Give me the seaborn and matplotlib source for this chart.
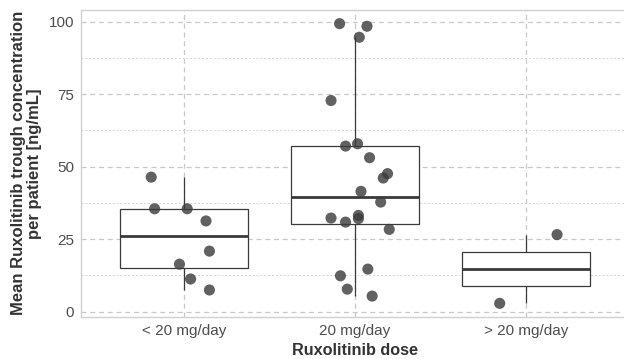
import numpy as np
import pandas as pd
import matplotlib
matplotlib.use("Agg")
import matplotlib.pyplot as plt
import seaborn as sns

# --- data ---
doses = ["< 20 mg/day", "20 mg/day", "> 20 mg/day"]

low_vals = [46.4, 35.5, 35.5, 31.3, 20.9, 16.4, 11.3, 7.5]
low_jit = [-0.19, -0.17, 0.02, 0.13, 0.15, -0.025, 0.04, 0.15]

mid_vals = [99.3, 98.4, 94.6, 72.8, 57.9, 57.1, 53.1, 47.6, 46.1, 41.5,
            37.8, 33.2, 32.1, 32.3, 30.9, 28.4, 14.7, 12.4, 7.8, 5.4]
mid_jit = [-0.09, 0.07, 0.025, -0.14, 0.015, -0.055, 0.085, 0.19, 0.165, 0.035,
           0.15, 0.02, 0.02, -0.14, -0.055, 0.20, 0.075, -0.085, -0.045, 0.10]

high_vals = [26.6, 14.8, 2.9]
high_jit = [0.18, 0.0, -0.155]
high_shown = [True, False, True]  # middle patient has no visible dot

rows = []
for i, (vals, jit) in enumerate([(low_vals, low_jit), (mid_vals, mid_jit), (high_vals, high_jit)]):
    for k, (v, j) in enumerate(zip(vals, jit)):
        shown = high_shown[k] if i == 2 else True
        rows.append({"dose": doses[i], "conc": v, "xpos": i + j, "shown": shown})
df = pd.DataFrame(rows)

# --- plot ---
sns.set_style("white")
plt.rcParams["font.family"] = ["Liberation Sans", "DejaVu Sans"]
fig = plt.figure(figsize=(6.24, 3.59), dpi=100)
ax = fig.add_axes([81 / 624, 1 - 316.7 / 359, 548 / 624, (316.7 - 10) / 359])

# grid
for y in [0, 25, 50, 75, 100]:
    ax.axhline(y, color="#c8c8c8", lw=0.9, ls=(0, (4, 3)), zorder=0)
for y in [12.5, 37.5, 62.5, 87.5]:
    ax.axhline(y, color="#d4d4d4", lw=0.7, ls=(0, (2, 2)), zorder=0)
for x in range(3):
    ax.axvline(x, color="#c8c8c8", lw=0.9, ls=(0, (4, 3)), zorder=0)

sns.boxplot(data=df, x="dose", y="conc", order=doses, ax=ax, width=0.75,
            showfliers=False, showcaps=False,
            boxprops=dict(facecolor="white", edgecolor="#3a3a3a", linewidth=0.9),
            whiskerprops=dict(color="#3a3a3a", linewidth=0.9),
            medianprops=dict(color="#3a3a3a", linewidth=2.0),
            zorder=2)

pts = df[df["shown"]]
sns.scatterplot(data=pts, x="xpos", y="conc", ax=ax, color="#3a3a3a", alpha=0.8,
                s=64, edgecolor="none", zorder=3, legend=False)

ax.set_xlim(-0.6, 2.6)
ax.set_ylim(-1.7, 104.0)
ax.set_xticks(range(3))
ax.set_xticklabels(doses)
ax.set_yticks([0, 25, 50, 75, 100])

for side in ["left", "bottom", "top"]:
    ax.spines[side].set_color("#d0d0d0")
    ax.spines[side].set_linewidth(1.0)
ax.spines["right"].set_visible(False)
ax.tick_params(axis="both", colors="#c0c0c0", length=3, width=0.8, labelsize=11,
               labelcolor="#4d4d4d", pad=2)

ax.set_xlabel("Ruxolitinib dose", fontsize=11.7, fontweight="bold", color="#333333", labelpad=4)
ax.set_ylabel("Mean Ruxolitinib trough concentration\nper patient [ng/mL]", fontsize=12,
              fontweight="bold", color="#333333", labelpad=5, linespacing=1.05)

fig.savefig("out.png", dpi=100)
